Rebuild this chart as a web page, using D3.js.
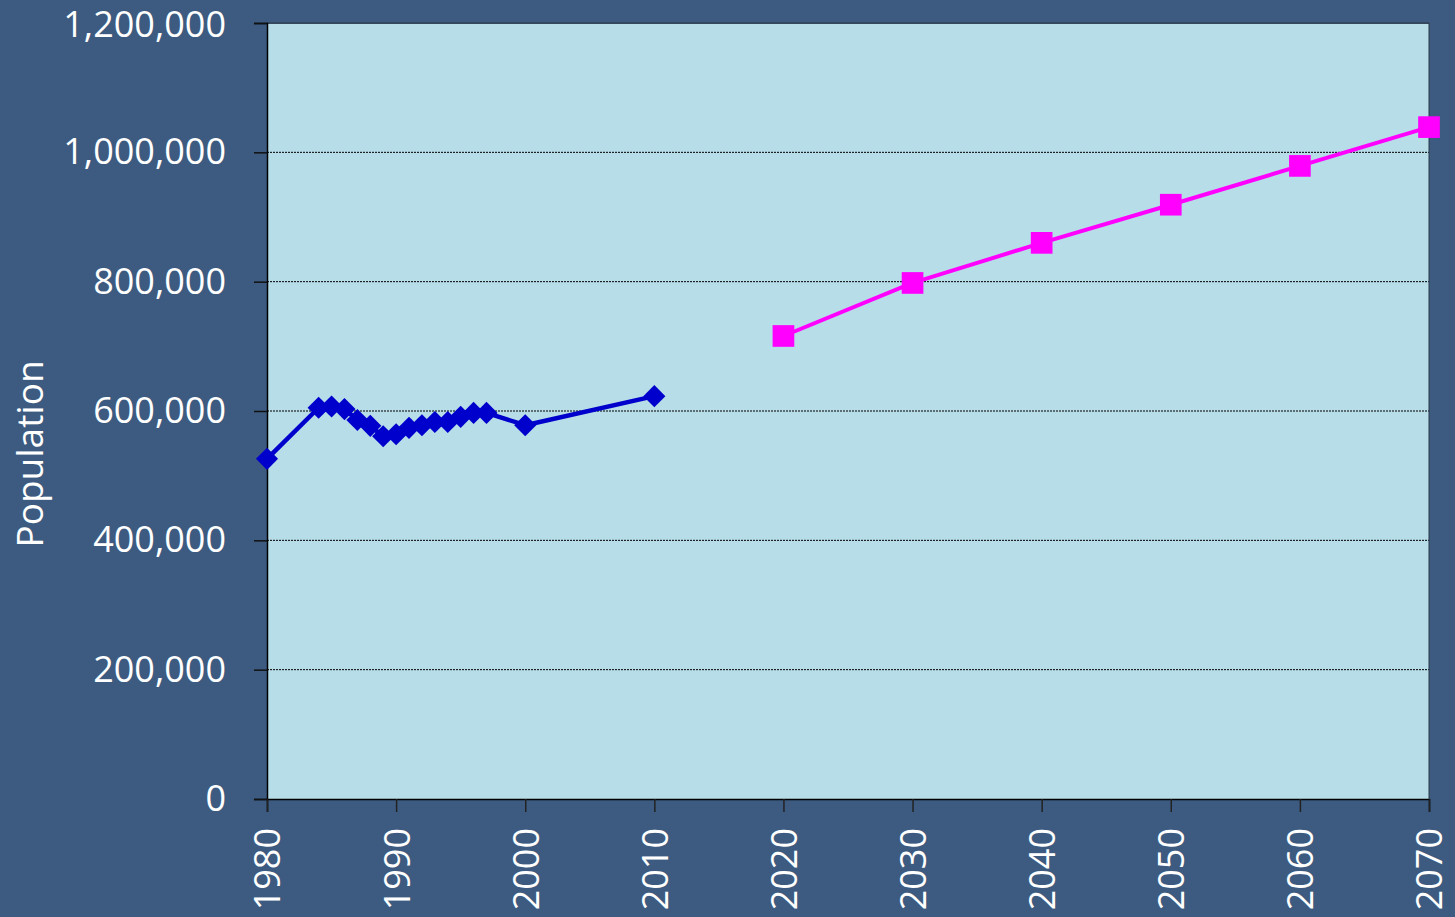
<!doctype html>
<html>
<head>
    <meta charset="UTF-8">
    <title>Population</title>
    <script src="https://cdn.jsdelivr.net/npm/d3@7"></script>
    <style>
        html, body { margin: 0; padding: 0; background: #3d5b80; }
        svg { display: block; }
        text { font-family: "Open Sans", sans-serif; fill: #fff; }
    </style>
</head>
<body>
<svg class="chart" width="1455" height="917"></svg>
<script>
    // observed series
    var histYears = [1980, 1984, 1985, 1986, 1987, 1988, 1989, 1990, 1991, 1992, 1993, 1994, 1995, 1996, 1997, 2000, 2010];
    var histPop = [526000, 605000, 607000, 603000, 586000, 577000, 561000, 564000, 574000, 578000, 583000, 583000, 591000, 597000, 597000, 578000, 623000];
    // projection series
    var projYears = [2020, 2030, 2040, 2050, 2060, 2070];
    var projPop = [716000, 798000, 860000, 919000, 979000, 1039000];

    var xTicks = [1980, 1990, 2000, 2010, 2020, 2030, 2040, 2050, 2060, 2070];
    var yTicks = [0, 200000, 400000, 600000, 800000, 1000000, 1200000];

    var W = 1455, H = 917;
    var margin = {top: 23, right: 26, bottom: 118, left: 267};
    var iw = W - margin.left - margin.right;
    var ih = H - margin.top - margin.bottom;

    var svg = d3.select(".chart");
    var g = svg.append("g").attr("transform", "translate(" + margin.left + "," + margin.top + ")");

    var x = d3.scaleLinear().domain([1980, 2070]).range([0, iw]);
    var y = d3.scaleLinear().domain([0, 1200000]).range([ih, 0]);

    g.append("rect").attr("width", iw).attr("height", ih).attr("fill", "#b7dde8");

    // gridlines
    g.append("g").selectAll("line").data(yTicks.slice(1)).enter().append("line")
        .attr("x1", 0).attr("x2", iw)
        .attr("y1", function (d) { return y(d); })
        .attr("y2", function (d) { return y(d); })
        .attr("stroke", function (d) { return d == 1200000 ? "#34495e" : "#000"; })
        .attr("stroke-width", function (d) { return d == 1200000 ? 2 : 1; })
        .attr("stroke-dasharray", function (d) { return d == 1200000 ? null : "2,1"; });

    var fmt = d3.format(",");

    var yAxis = g.append("g")
        .call(d3.axisLeft(y).tickValues(yTicks).tickSize(13).tickPadding(28).tickFormat(fmt));
    yAxis.select(".domain").attr("stroke", "#000").attr("stroke-width", 1.5);
    yAxis.selectAll(".tick line").attr("stroke", "#111").attr("stroke-width", 1.5);
    yAxis.selectAll("text").attr("font-size", 36).attr("fill", "#fff")
        .attr("font-family", "'Open Sans', sans-serif")
        .attr("dy", function (d) { return d == 1200000 ? "0.38em" : "0.32em"; });

    var xAxis = g.append("g").attr("transform", "translate(0," + ih + ")")
        .call(d3.axisBottom(x).tickValues(xTicks).tickSize(13).tickFormat(d3.format("d")));
    xAxis.select(".domain").attr("stroke", "#000").attr("stroke-width", 1.5);
    xAxis.selectAll(".tick line").attr("stroke", "#222").attr("stroke-width", 1.5);
    xAxis.selectAll("text")
        .attr("font-size", 36).attr("fill", "#fff")
        .attr("font-family", "'Open Sans', sans-serif")
        .attr("transform", "rotate(-90)")
        .attr("text-anchor", "end")
        .attr("x", -29).attr("y", 0).attr("dy", "0.36em");

    // right edge of plot
    g.append("line").attr("x1", iw).attr("x2", iw).attr("y1", 0).attr("y2", ih)
        .attr("stroke", "#2a3a4a").attr("stroke-width", 1);

    svg.append("text")
        .attr("transform", "translate(30,454) rotate(-90)")
        .attr("text-anchor", "middle").attr("dy", "0.36em")
        .attr("font-size", 37)
        .text("Population");

    var hist = histYears.map(function (d, i) { return {x: d, y: histPop[i]}; });
    var proj = projYears.map(function (d, i) { return {x: d, y: projPop[i]}; });

    var line = d3.line()
        .x(function (d) { return x(d.x); })
        .y(function (d) { return y(d.y); });

    g.append("path").datum(hist).attr("d", line)
        .attr("fill", "none").attr("stroke", "#0000cc").attr("stroke-width", 4.5).attr("stroke-linejoin", "round");
    g.append("path").datum(proj).attr("d", line)
        .attr("fill", "none").attr("stroke", "#ff00ff").attr("stroke-width", 4).attr("stroke-linejoin", "round");

    g.append("g").selectAll("path").data(hist).enter().append("path")
        .attr("d", d3.symbol().type(d3.symbolSquare).size(245))
        .attr("transform", function (d) { return "translate(" + x(d.x) + "," + y(d.y) + ") rotate(45)"; })
        .attr("fill", "#0000cc");

    g.append("g").selectAll("path").data(proj).enter().append("path")
        .attr("d", d3.symbol().type(d3.symbolSquare).size(470))
        .attr("transform", function (d) { return "translate(" + x(d.x) + "," + y(d.y) + ")"; })
        .attr("fill", "#ff00ff");
</script>
</body>
</html>
